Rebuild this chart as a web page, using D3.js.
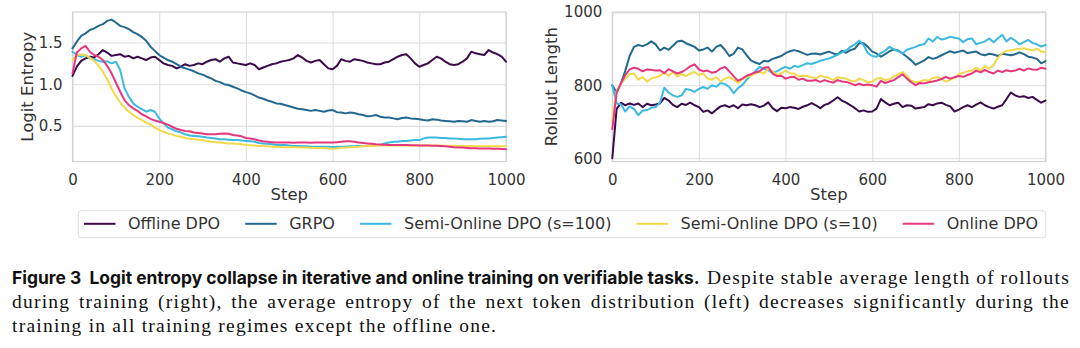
<!DOCTYPE html>
<html><head><meta charset="utf-8">
<script src="https://cdn.jsdelivr.net/npm/d3@7"></script>
<style>
html,body{margin:0;padding:0;background:#fff;}
svg{display:block;}
</style></head><body>
<svg id="c" width="1080" height="348"></svg>
<script>
// ---------- data ----------
const steps = d3.range(0, 1001, 10);
const seriesNames = ["Offline DPO", "GRPO", "Semi-Online DPO (s=100)", "Semi-Online DPO (s=10)", "Online DPO"];
const xTicks = [0, 200, 400, 600, 800, 1000];
const entropyTicks = [0.5, 1.0, 1.5];
const lengthTicks = [600, 800, 1000];

const entropyOffline = [
 1.10,1.21,1.28,1.31,1.33,1.32,1.36,1.41,1.38,1.34,
 1.35,1.36,1.33,1.34,1.31,1.33,1.31,1.29,1.32,1.33,
 1.29,1.25,1.23,1.22,1.19,1.21,1.24,1.22,1.23,1.25,
 1.24,1.27,1.29,1.30,1.27,1.31,1.33,1.26,1.25,1.24,
 1.23,1.25,1.23,1.18,1.20,1.22,1.24,1.25,1.27,1.28,
 1.29,1.31,1.35,1.32,1.28,1.26,1.28,1.29,1.24,1.19,
 1.18,1.22,1.30,1.28,1.27,1.30,1.29,1.28,1.26,1.25,
 1.24,1.24,1.26,1.27,1.30,1.33,1.35,1.36,1.31,1.25,
 1.21,1.23,1.25,1.29,1.33,1.31,1.27,1.24,1.23,1.24,
 1.27,1.31,1.39,1.37,1.36,1.35,1.41,1.38,1.36,1.33,
 1.27];
const entropyGRPO = [
 1.43,1.51,1.58,1.61,1.65,1.67,1.70,1.72,1.76,1.775,
 1.74,1.70,1.685,1.66,1.625,1.60,1.565,1.52,1.45,1.40,
 1.35,1.32,1.29,1.27,1.24,1.21,1.19,1.175,1.155,1.13,
 1.115,1.09,1.07,1.04,1.025,1.00,0.99,0.97,0.95,0.925,
 0.905,0.89,0.865,0.84,0.825,0.805,0.79,0.77,0.765,0.75,
 0.735,0.72,0.705,0.70,0.69,0.68,0.69,0.68,0.67,0.685,
 0.69,0.665,0.66,0.65,0.66,0.655,0.64,0.63,0.615,0.62,
 0.63,0.61,0.60,0.60,0.59,0.58,0.595,0.60,0.59,0.585,
 0.58,0.57,0.565,0.58,0.575,0.565,0.56,0.555,0.55,0.56,
 0.555,0.55,0.57,0.56,0.55,0.56,0.55,0.555,0.57,0.565,
 0.56];
const entropySemi100 = [
 1.39,1.35,1.33,1.35,1.31,1.30,1.28,1.27,1.275,1.25,
 1.27,1.17,0.95,0.85,0.77,0.73,0.70,0.67,0.69,0.67,
 0.59,0.53,0.48,0.46,0.435,0.42,0.40,0.385,0.38,0.375,
 0.37,0.36,0.355,0.35,0.34,0.34,0.335,0.33,0.33,0.325,
 0.32,0.315,0.31,0.295,0.29,0.285,0.28,0.27,0.27,0.27,
 0.265,0.26,0.26,0.255,0.255,0.25,0.25,0.25,0.25,0.25,
 0.248,0.25,0.25,0.25,0.255,0.255,0.26,0.26,0.26,0.265,
 0.27,0.27,0.29,0.30,0.31,0.31,0.32,0.32,0.325,0.33,
 0.33,0.35,0.36,0.36,0.36,0.355,0.355,0.35,0.35,0.345,
 0.34,0.34,0.34,0.34,0.345,0.35,0.35,0.355,0.36,0.365,
 0.37];
const entropySemi10 = [
 1.29,1.35,1.355,1.35,1.32,1.28,1.22,1.15,1.06,0.95,
 0.86,0.78,0.72,0.67,0.63,0.60,0.57,0.54,0.515,0.48,
 0.45,0.43,0.41,0.395,0.38,0.37,0.355,0.345,0.34,0.335,
 0.33,0.32,0.31,0.305,0.30,0.295,0.29,0.29,0.285,0.28,
 0.27,0.268,0.265,0.26,0.258,0.255,0.25,0.25,0.248,0.245,
 0.245,0.243,0.24,0.24,0.24,0.238,0.236,0.235,0.232,0.228,
 0.225,0.23,0.238,0.24,0.245,0.248,0.25,0.255,0.258,0.26,
 0.262,0.264,0.265,0.265,0.265,0.266,0.266,0.266,0.266,0.266,
 0.266,0.266,0.266,0.265,0.265,0.264,0.263,0.262,0.262,0.26,
 0.26,0.258,0.258,0.256,0.255,0.255,0.255,0.255,0.255,0.255,
 0.255];
const entropyOnline = [
 1.13,1.38,1.43,1.46,1.39,1.35,1.33,1.29,1.22,1.13,
 1.02,0.91,0.81,0.75,0.71,0.68,0.64,0.615,0.585,0.565,
 0.55,0.535,0.515,0.49,0.465,0.45,0.44,0.435,0.42,0.415,
 0.41,0.40,0.40,0.40,0.405,0.41,0.405,0.39,0.385,0.375,
 0.355,0.35,0.34,0.325,0.315,0.31,0.305,0.30,0.30,0.30,
 0.30,0.298,0.30,0.302,0.30,0.298,0.30,0.302,0.30,0.30,
 0.30,0.305,0.31,0.315,0.315,0.31,0.30,0.295,0.29,0.285,
 0.28,0.278,0.275,0.272,0.27,0.27,0.27,0.27,0.268,0.267,
 0.265,0.265,0.265,0.263,0.262,0.258,0.255,0.25,0.245,0.242,
 0.24,0.236,0.232,0.231,0.23,0.229,0.228,0.226,0.225,0.223,
 0.22];

const lengthOffline = [
 600,735,752,745,750,746,750,740,749,745,
 747,750,765,758,746,740,749,746,752,745,
 740,727,731,723,733,742,745,740,745,737,
 747,745,748,745,740,744,753,737,729,738,
 737,740,738,735,741,745,751,745,737,746,
 750,758,767,758,752,745,737,728,731,727,
 728,736,762,753,745,749,752,740,745,744,
 736,738,740,748,745,750,752,746,742,728,
 733,740,745,740,747,753,745,740,736,741,
 745,762,780,772,768,770,765,768,760,752,
 758];
const lengthGRPO = [
 800,780,805,840,880,905,910,907,912,920,
 912,895,903,897,908,920,922,915,910,905,
 895,898,903,892,905,910,897,880,886,903,
 898,882,868,862,858,867,865,872,876,880,
 888,893,896,893,888,883,886,887,884,888,
 892,887,884,894,889,896,900,915,915,905,
 892,887,878,885,893,898,895,887,878,868,
 856,862,868,877,872,876,882,888,893,889,
 892,895,888,890,892,885,882,886,884,880,
 886,884,882,885,890,885,878,876,872,860,
 866];
const lengthSemi100 = [
 800,750,748,728,742,735,718,730,732,738,
 740,752,793,780,772,768,772,790,787,782,
 790,795,790,800,796,806,803,795,778,792,
 800,815,828,838,850,845,841,833,838,845,
 850,845,853,850,855,860,858,862,867,870,
 873,878,883,890,895,905,912,922,910,888,
 880,878,888,895,905,898,893,887,897,901,
 905,910,912,928,920,932,925,928,933,930,
 928,918,926,928,912,916,920,928,918,928,
 938,920,930,922,912,918,924,916,912,906,
 910];
const lengthSemi10 = [
 700,785,805,818,830,832,815,822,810,818,
 822,825,835,826,836,824,830,825,832,836,
 828,832,818,815,822,810,818,822,815,806,
 816,822,826,832,836,832,845,838,828,832,
 840,833,832,824,826,825,822,818,826,823,
 820,814,822,820,818,812,810,818,814,808,
 810,818,820,814,816,824,830,836,826,812,
 808,810,814,812,820,822,817,810,815,820,
 830,834,838,840,848,840,852,845,855,875,
 888,894,896,898,900,901,898,895,900,892,
 890];
const lengthOnline = [
 680,780,805,828,843,848,845,838,843,842,
 840,841,833,844,838,832,836,843,852,857,
 843,838,840,834,837,846,850,838,825,812,
 818,826,830,835,838,848,850,832,825,826,
 818,822,823,815,818,812,812,814,809,814,
 810,807,814,810,809,805,800,804,800,802,
 800,796,812,806,810,814,822,830,818,808,
 800,806,805,808,810,813,817,823,818,822,
 825,823,828,832,840,835,842,836,832,840,
 836,841,838,840,845,840,846,843,842,848,
 845];

const captionBold = "Figure 3  Logit entropy collapse in iterative and online training on verifiable tasks.";
const captionLine1 = "Despite stable average length of rollouts";
const captionLine2 = "during training (right), the average entropy of the next token distribution (left) decreases significantly during the";
const captionLine3 = "training in all training regimes except the offline one.";

// ---------- styles ----------
const colors = ["#3a0a4a", "#22698f", "#3cb9e0", "#f3d94a", "#e6387f"];
const FONT = "'DejaVu Sans', sans-serif";
const TXT = "#333333";

const svg = d3.select("#c");

function panel(opts) {
  const {left, right, top, bottom, yDomain, yTicks, yFmt, series, ylabel, ylabelX} = opts;
  const x = d3.scaleLinear().domain([0, 1000]).range([left, right]);
  const y = d3.scaleLinear().domain(yDomain).range([bottom, top]);
  const g = svg.append("g");

  const gx = g.append("g").attr("transform", `translate(0,${bottom})`)
    .call(d3.axisBottom(x).tickValues(xTicks).tickSize(-(bottom - top)).tickPadding(13).tickFormat(d3.format("d")));
  const gy = g.append("g").attr("transform", `translate(${left},0)`)
    .call(d3.axisLeft(y).tickValues(yTicks).tickSize(-(right - left)).tickPadding(10).tickFormat(yFmt));
  [gx, gy].forEach(a => {
    a.select(".domain").remove();
    a.selectAll(".tick line").attr("stroke", "#dedede").attr("stroke-width", 1.1);
    a.selectAll(".tick text").attr("fill", TXT).style("font-family", FONT).style("font-size", "15px");
  });

  g.append("rect").attr("x", left).attr("y", top).attr("width", right - left).attr("height", bottom - top)
    .attr("fill", "none").attr("stroke", "#d2d2d2").attr("stroke-width", 1.2);

  const line = d3.line().x((d, i) => x(steps[i])).y(d => y(d)).curve(d3.curveLinear);
  series.forEach((vals, k) => {
    g.append("path").datum(vals).attr("d", line)
      .attr("fill", "none").attr("stroke", colors[k]).attr("stroke-width", 2)
      .attr("stroke-linejoin", "round").attr("stroke-linecap", "round");
  });

  g.append("text").attr("x", (left + right) / 2).attr("y", 200).attr("text-anchor", "middle")
    .attr("fill", TXT).style("font-family", FONT).style("font-size", "16.5px").text("Step");
  g.append("text").attr("transform", `translate(${ylabelX},${(top + bottom) / 2}) rotate(-90)`)
    .attr("text-anchor", "middle").attr("fill", TXT).style("font-family", FONT).style("font-size", "16.5px").text(ylabel);
}

panel({left: 72.5, right: 506, top: 12, bottom: 161.5, yDomain: [0.073, 1.866], yTicks: entropyTicks,
  yFmt: d3.format(".1f"), series: [entropyOffline, entropyGRPO, entropySemi100, entropySemi10, entropyOnline],
  ylabel: "Logit Entropy", ylabelX: 33});
panel({left: 612.3, right: 1045.5, top: 12, bottom: 161.5, yDomain: [591, 1000.5], yTicks: lengthTicks,
  yFmt: d3.format("d"), series: [lengthOffline, lengthGRPO, lengthSemi100, lengthSemi10, lengthOnline],
  ylabel: "Rollout Length", ylabelX: 557});

// ---------- legend ----------
const leg = svg.append("g");
leg.append("rect").attr("x", 78.3).attr("y", 210.7).attr("width", 967.4).attr("height", 27)
  .attr("rx", 3).attr("fill", "#fff").attr("stroke", "#dcdcdc").attr("stroke-width", 1);
const legY = 223.8;
const texts = seriesNames.map(n => leg.append("text").attr("y", legY).attr("dy", "0.35em")
  .attr("fill", TXT).style("font-family", FONT).style("font-size", "16px").text(n));
const widths = texts.map(t => t.node().getComputedTextLength());
const handleLen = 31.5, handlePad = 12.5, startX = 84, endX = 1038;
const gap = (endX - startX - d3.sum(widths) - seriesNames.length * (handleLen + handlePad)) / (seriesNames.length - 1);
let cx = startX;
seriesNames.forEach((n, k) => {
  leg.append("line").attr("x1", cx).attr("x2", cx + handleLen).attr("y1", legY).attr("y2", legY)
    .attr("stroke", colors[k]).attr("stroke-width", 2);
  texts[k].attr("x", cx + handleLen + handlePad);
  cx += handleLen + handlePad + widths[k] + gap;
});

// ---------- caption ----------
const SERIF = "'Liberation Serif', 'DejaVu Serif', serif";
const SERIF_SIZE = 19.5;
const cap = svg.append("g").attr("fill", "#111");
const b = cap.append("text").attr("x", 12).attr("y", 284).style("white-space", "pre")
  .style("font-family", "Inter, 'Open Sans', sans-serif").style("font-weight", 700).style("font-size", "16px")
  .text(captionBold);
const bw = b.node().getComputedTextLength();
b.style("font-size", (16 * 688 / bw) + "px");

// letter spacing derived from the full-width second line so that glyph widths match the wider original face
const probe = cap.append("text").style("font-family", SERIF).style("font-size", SERIF_SIZE + "px").text(captionLine2);
const pw = probe.node().getComputedTextLength();
probe.remove();
const spaces2 = (captionLine2.match(/ /g) || []).length;
const ls = Math.max(0, (1058 - 2.5 * spaces2 - pw) / captionLine2.length);

function serifLine(txt, x0, x1, yy) {
  const t = cap.append("text").attr("x", x0).attr("y", yy).style("font-family", SERIF)
    .style("font-size", SERIF_SIZE + "px").style("letter-spacing", ls + "px").text(txt);
  if (x1) {
    const w = t.node().getComputedTextLength();
    const spaces = (txt.match(/ /g) || []).length;
    if (spaces) t.style("word-spacing", ((x1 - x0 - w) / spaces) + "px");
  }
  return t;
}
serifLine(captionLine1, 707, 1070, 284);
serifLine(captionLine2, 12, 1070, 308);
serifLine(captionLine3, 12, null, 332);
</script>
</body></html>
